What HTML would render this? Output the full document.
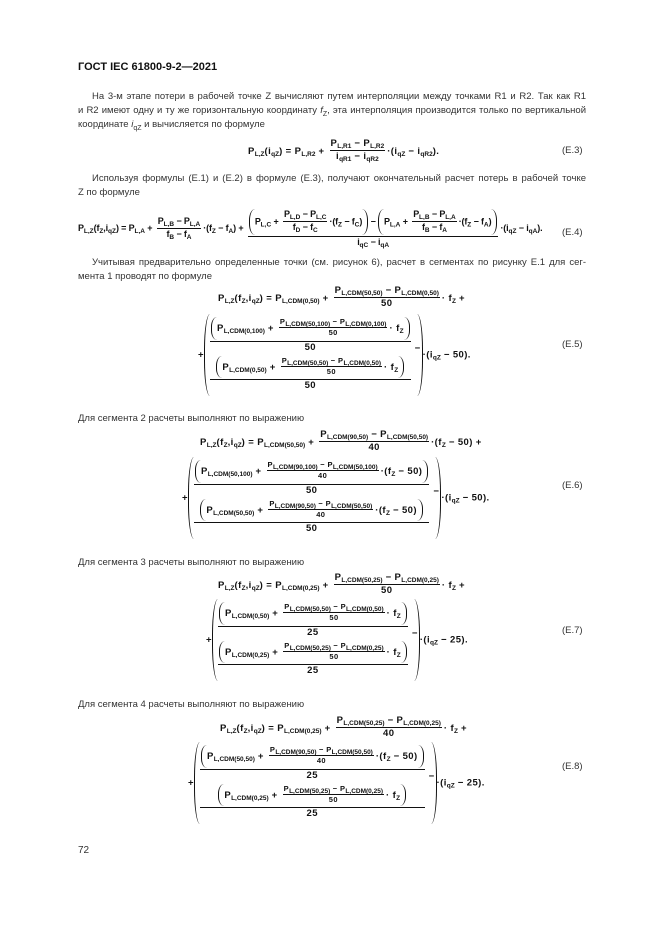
<!DOCTYPE html>
<html><head><meta charset="utf-8">
<style>
body{margin:0;width:661px;height:935px;background:#fff;position:relative;overflow:hidden;color:#222}
.p{position:absolute;left:78px;width:508px;font:9.5px/14px "Liberation Sans",sans-serif;color:#333}
.j{text-align:justify;text-align-last:justify}
.p sub{font-size:7px;line-height:0}
.m{position:absolute;white-space:nowrap;font:bold 9.5px/1.1 "Liberation Sans",sans-serif;letter-spacing:0.4px;color:#111}
.m sub{font-size:6.5px;vertical-align:-2px;line-height:0;letter-spacing:0}
.fr{display:inline-block;vertical-align:middle;text-align:center;margin:0 2px}
.fr>span{display:block;padding:0 1px 1px}
.fr>span:first-child{border-bottom:1px solid #111}
.fr>span:last-child{padding-top:1px}
.s{font-size:7.5px}
.pp{display:inline-block;vertical-align:middle;position:relative;padding:1px 6px}
.pp:before,.pp:after{content:"";position:absolute;top:0;bottom:0;width:5px;border:0 solid #111}
.pp:before{left:0;border-left-width:1.3px;border-radius:7px 0 0 7px/50% 0 0 50%}
.pp:after{right:0;border-right-width:1.3px;border-radius:0 7px 7px 0/0 50% 50% 0}
.st{display:inline-block;vertical-align:middle;position:relative}
.st>.fr{display:block;margin:2px 0}
.mn{position:absolute;right:-10px;top:36%}
.lab{position:absolute;left:562px;font:9.5px "Liberation Sans",sans-serif;color:#333}
</style></head><body>

<div style="position:absolute;left:78px;top:61px;font:bold 11px 'Liberation Sans',sans-serif;color:#111">ГОСТ IEC 61800-9-2—2021</div>

<div class="p" style="top:90px">
<div class="j" style="text-indent:14px">На 3-м этапе потери в рабочей точке Z вычисляют путем интерполяции между точками R1 и R2. Так как R1</div>
<div class="j">и R2 имеют одну и ту же горизонтальную координату <i>f</i><sub>Z</sub>, эта интерполяция производится только по вертикальной</div>
<div>координате <i>i</i><sub>qZ</sub> и вычисляется по формуле</div>
</div>

<div class="m" style="left:248px;top:139px">P<sub>L,Z</sub>(i<sub>qZ</sub>) = P<sub>L,R2</sub> + <span class="fr"><span>P<sub>L,R1</sub> − P<sub>L,R2</sub></span><span>i<sub>qR1</sub> − i<sub>qR2</sub></span></span>·(i<sub>qZ</sub> − i<sub>qR2</sub>).</div>
<div class="lab" style="top:145px">(E.3)</div>

<div class="p" style="top:172px">
<div class="j" style="text-indent:14px">Используя формулы (E.1) и (E.2) в формуле (E.3), получают окончательный расчет потерь в рабочей точке</div>
<div>Z по формуле</div>
</div>

<div class="m" style="left:78px;top:209px;font-size:9px;letter-spacing:-0.15px">P<sub>L,Z</sub>(f<sub>Z</sub>,i<sub>qZ</sub>) = P<sub>L,A</sub> + <span class="fr"><span>P<sub>L,B</sub> − P<sub>L,A</sub></span><span>f<sub>B</sub> − f<sub>A</sub></span></span>·(f<sub>Z</sub> − f<sub>A</sub>) + <span class="fr"><span><span class="pp">P<sub>L,C</sub> + <span class="fr"><span>P<sub>L,D</sub> − P<sub>L,C</sub></span><span>f<sub>D</sub> − f<sub>C</sub></span></span>·(f<sub>Z</sub> − f<sub>C</sub>)</span> − <span class="pp">P<sub>L,A</sub> + <span class="fr"><span>P<sub>L,B</sub> − P<sub>L,A</sub></span><span>f<sub>B</sub> − f<sub>A</sub></span></span>·(f<sub>Z</sub> − f<sub>A</sub>)</span></span><span>i<sub>qC</sub> − i<sub>qA</sub></span></span>·(i<sub>qZ</sub> − i<sub>qA</sub>).</div>
<div class="lab" style="top:227px">(E.4)</div>

<div class="p" style="top:256px">
<div class="j" style="text-indent:14px">Учитывая предварительно определенные точки (см. рисунок 6), расчет в сегментах по рисунку E.1 для сег-</div>
<div>мента 1 проводят по формуле</div>
</div>

<!-- E.5 -->
<div class="m" style="left:218px;top:286px">P<sub>L,Z</sub>(f<sub>Z</sub>,i<sub>qZ</sub>) = P<sub>L,CDM(0,50)</sub> + <span class="fr"><span>P<sub>L,CDM(50,50)</sub> − P<sub>L,CDM(0,50)</sub></span><span>50</span></span>· f<sub>Z</sub> +</div>
<div class="m" style="left:198px;top:314px">+<span class="pp"><span class="st"><span class="fr"><span><span class="pp">P<sub>L,CDM(0,100)</sub> + <span class="fr s"><span>P<sub>L,CDM(50,100)</sub> − P<sub>L,CDM(0,100)</sub></span><span>50</span></span>· f<sub>Z</sub></span></span><span>50</span></span><span class="fr"><span><span class="pp">P<sub>L,CDM(0,50)</sub> + <span class="fr s"><span>P<sub>L,CDM(50,50)</sub> − P<sub>L,CDM(0,50)</sub></span><span>50</span></span>· f<sub>Z</sub></span></span><span>50</span></span><span class="mn">−</span></span>&nbsp;&nbsp;</span>·(i<sub>qZ</sub> − 50).</div>
<div class="lab" style="top:339px">(E.5)</div>

<div class="p" style="top:412px">Для сегмента 2 расчеты выполняют по выражению</div>

<!-- E.6 -->
<div class="m" style="left:200px;top:430px">P<sub>L,Z</sub>(f<sub>Z</sub>,i<sub>qZ</sub>) = P<sub>L,CDM(50,50)</sub> + <span class="fr"><span>P<sub>L,CDM(90,50)</sub> − P<sub>L,CDM(50,50)</sub></span><span>40</span></span>·(f<sub>Z</sub> − 50) +</div>
<div class="m" style="left:182px;top:457px">+<span class="pp"><span class="st"><span class="fr"><span><span class="pp">P<sub>L,CDM(50,100)</sub> + <span class="fr s"><span>P<sub>L,CDM(90,100)</sub> − P<sub>L,CDM(50,100)</sub></span><span>40</span></span>·(f<sub>Z</sub> − 50)</span></span><span>50</span></span><span class="fr"><span><span class="pp">P<sub>L,CDM(50,50)</sub> + <span class="fr s"><span>P<sub>L,CDM(90,50)</sub> − P<sub>L,CDM(50,50)</sub></span><span>40</span></span>·(f<sub>Z</sub> − 50)</span></span><span>50</span></span><span class="mn">−</span></span>&nbsp;&nbsp;</span>·(i<sub>qZ</sub> − 50).</div>
<div class="lab" style="top:480px">(E.6)</div>

<div class="p" style="top:556px">Для сегмента 3 расчеты выполняют по выражению</div>

<!-- E.7 -->
<div class="m" style="left:218px;top:573px">P<sub>L,Z</sub>(f<sub>Z</sub>,i<sub>qZ</sub>) = P<sub>L,CDM(0,25)</sub> + <span class="fr"><span>P<sub>L,CDM(50,25)</sub> − P<sub>L,CDM(0,25)</sub></span><span>50</span></span>· f<sub>Z</sub> +</div>
<div class="m" style="left:206px;top:599px">+<span class="pp"><span class="st"><span class="fr"><span><span class="pp">P<sub>L,CDM(0,50)</sub> + <span class="fr s"><span>P<sub>L,CDM(50,50)</sub> − P<sub>L,CDM(0,50)</sub></span><span>50</span></span>· f<sub>Z</sub></span></span><span>25</span></span><span class="fr"><span><span class="pp">P<sub>L,CDM(0,25)</sub> + <span class="fr s"><span>P<sub>L,CDM(50,25)</sub> − P<sub>L,CDM(0,25)</sub></span><span>50</span></span>· f<sub>Z</sub></span></span><span>25</span></span><span class="mn">−</span></span>&nbsp;&nbsp;</span>·(i<sub>qZ</sub> − 25).</div>
<div class="lab" style="top:625px">(E.7)</div>

<div class="p" style="top:698px">Для сегмента 4 расчеты выполняют по выражению</div>

<!-- E.8 -->
<div class="m" style="left:220px;top:716px">P<sub>L,Z</sub>(f<sub>Z</sub>,i<sub>qZ</sub>) = P<sub>L,CDM(0,25)</sub> + <span class="fr"><span>P<sub>L,CDM(50,25)</sub> − P<sub>L,CDM(0,25)</sub></span><span>40</span></span>· f<sub>Z</sub> +</div>
<div class="m" style="left:188px;top:742px">+<span class="pp"><span class="st"><span class="fr"><span><span class="pp">P<sub>L,CDM(50,50)</sub> + <span class="fr s"><span>P<sub>L,CDM(90,50)</sub> − P<sub>L,CDM(50,50)</sub></span><span>40</span></span>·(f<sub>Z</sub> − 50)</span></span><span>25</span></span><span class="fr"><span><span class="pp">P<sub>L,CDM(0,25)</sub> + <span class="fr s"><span>P<sub>L,CDM(50,25)</sub> − P<sub>L,CDM(0,25)</sub></span><span>50</span></span>· f<sub>Z</sub></span></span><span>25</span></span><span class="mn">−</span></span>&nbsp;&nbsp;</span>·(i<sub>qZ</sub> − 25).</div>
<div class="lab" style="top:761px">(E.8)</div>

<div style="position:absolute;left:78px;top:845px;font:10px 'Liberation Sans',sans-serif;color:#333">72</div>
</body></html>
